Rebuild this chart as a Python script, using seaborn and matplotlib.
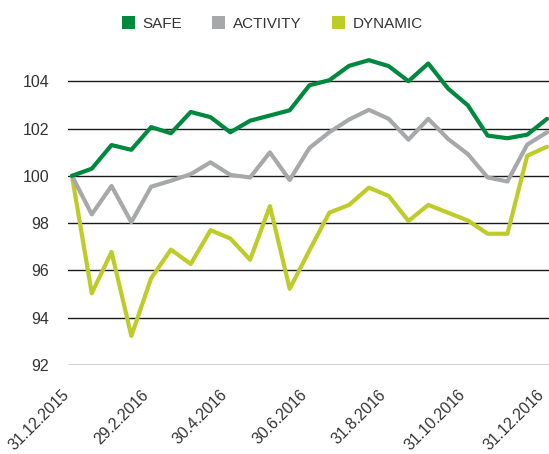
import matplotlib.pyplot as plt
from matplotlib.patches import Patch
import pandas as pd
import seaborn as sns

# semi-monthly index values, 31.12.2015 = 100
safe = [100.0, 100.3, 101.3, 101.1, 102.06, 101.8, 102.7, 102.48, 101.84, 102.33,
        102.55, 102.77, 103.83, 104.04, 104.65, 104.89, 104.64, 104.0, 104.75,
        103.69, 102.98, 101.7, 101.59, 101.74, 102.41]
activity = [100.0, 98.37, 99.57, 98.04, 99.54, 99.79, 100.07, 100.57, 100.04, 99.93,
            100.99, 99.82, 101.18, 101.84, 102.38, 102.79, 102.41, 101.53, 102.41,
            101.56, 100.92, 99.93, 99.76, 101.32, 101.84]
dynamic = [100.0, 95.03, 96.78, 93.23, 95.67, 96.88, 96.27, 97.7, 97.35, 96.45,
           98.72, 95.22, 96.85, 98.44, 98.77, 99.5, 99.15, 98.09, 98.77,
           98.44, 98.11, 97.55, 97.55, 100.85, 101.23]

fund_names = ["SAFE", "ACTIVITY", "DYNAMIC"]
fund_colors = ["#00883f", "#a7a8aa", "#bdcc29"]
tick_labels = ["31.12.2015", "29.2.2016", "30.4.2016", "30.6.2016",
               "31.8.2016", "31.10.2016", "31.12.2016"]
y_ticks = [92, 94, 96, 98, 100, 102, 104]

steps = list(range(len(safe)))
df = pd.DataFrame({
    "step": steps * 3,
    "value": safe + activity + dynamic,
    "fund": [n for n in fund_names for _ in steps],
})

sns.set_style("white")
plt.rcParams["font.family"] = ["Liberation Sans", "DejaVu Sans"]
text_col = "#333333"

fig = plt.figure(figsize=(5.49, 4.54), dpi=100)
ax = fig.add_axes([68 / 549, 1 - 365 / 454, 481 / 549, 315 / 454])

sns.lineplot(data=df, x="step", y="value", hue="fund",
             hue_order=fund_names[::-1],
             palette=dict(zip(fund_names, fund_colors)),
             linewidth=3, legend=False, ax=ax)

ax.set_xlim(-0.2, 24.1)
ax.set_ylim(92, 105.32)
ax.set_yticks(y_ticks)
ax.set_yticklabels([str(v) for v in y_ticks])
ax.set_xticks(steps[::4])
ax.set_xticklabels(tick_labels, rotation=45, ha="right")
ax.yaxis.grid(True, color="#1a1a1a", linewidth=1)
ax.xaxis.grid(False)
ax.set_axisbelow(True)
for s in ax.spines.values():
    s.set_visible(False)
ax.set_xlabel("")
ax.set_ylabel("")
ax.tick_params(axis="y", length=0, pad=13.5, labelsize=11.5, labelcolor=text_col)
ax.tick_params(axis="x", length=0, pad=16, labelsize=11.3, labelcolor=text_col)

handles = [Patch(facecolor=c, edgecolor="none", label=n)
           for n, c in zip(fund_names, fund_colors)]
fig.legend(handles=handles, loc="center", bbox_to_anchor=(0.496, 0.948),
           ncol=3, frameon=False, fontsize=11, labelcolor=text_col,
           handlelength=0.85, handleheight=0.85, handletextpad=0.5,
           columnspacing=2.0)

fig.savefig("out.png", dpi=100)
